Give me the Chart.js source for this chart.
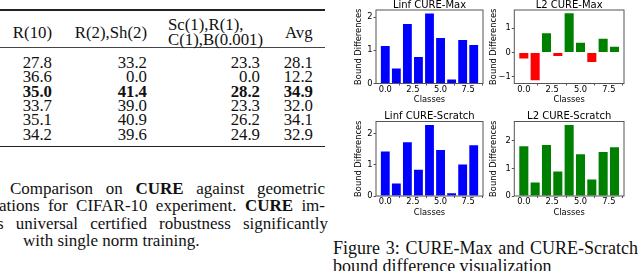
<!DOCTYPE html>
<html>
<head>
<meta charset="utf-8">
<script src="https://cdn.jsdelivr.net/npm/chart.js@4/dist/chart.umd.min.js"></script>
<style>
  html, body { margin:0; padding:0; background:#fff; }
  body { width:640px; height:271px; overflow:hidden; position:relative; }
  .t { position:absolute; font-family:"Liberation Serif","Times New Roman",serif; font-size:16.8px; line-height:16.5px; color:#111; white-space:nowrap; }
  .r { text-align:right; }
  .b { font-weight:bold; }
  .rule { position:absolute; left:0; width:325px; background:#222; }
  .cap { position:absolute; font-family:"Liberation Serif","Times New Roman",serif; font-size:17px; line-height:17.5px; color:#111; white-space:nowrap; }
  .just { text-align:justify; text-align-last:justify; white-space:normal; }
  canvas { position:absolute; }
</style>
</head>
<body>
<div class="rule" style="top:9.4px;height:1.3px"></div>
<div class="rule" style="top:47.2px;height:0.8px;background:#444"></div>
<div class="rule" style="top:146px;height:1.3px"></div>
<div id="table"></div>

<div class="cap just" style="left:10px;top:179.8px;width:315px">Comparison on <b>CURE</b> against geometric</div>
<div class="cap just" style="left:-1px;top:197.2px;width:326px">ations for CIFAR-10 experiment. <b>CURE</b> im-</div>
<div class="cap just" style="left:-3px;top:214.8px;width:331px">s universal certified robustness significantly</div>
<div class="cap" style="left:23px;top:232.2px">with single norm training.</div>

<div class="cap just" style="left:333px;top:239px;width:305px;font-size:18px;line-height:18px">Figure 3: CURE-Max and CURE-Scratch</div>
<div class="cap" style="left:333px;top:257px;font-size:18px;line-height:18px">bound difference visualization</div>

<canvas id="c1" width="160" height="107" style="left:330px;top:0px"></canvas>
<canvas id="c2" width="160" height="107" style="left:480px;top:0px"></canvas>
<canvas id="c3" width="160" height="109" style="left:330px;top:111px"></canvas>
<canvas id="c4" width="160" height="109" style="left:480px;top:111px"></canvas>

<script>
// ---- table data ----
const tableHeaders = ["R(10)", "R(2),Sh(2)", "Sc(1),R(1),", "C(1),B(0.001)", "Avg"];
const colR10 = ["27.8", "36.6", "35.0", "33.7", "35.1", "34.2"];
const colR2Sh2 = ["33.2", "0.0", "41.4", "39.0", "40.9", "39.6"];
const colScRCB = ["23.3", "0.0", "28.2", "23.3", "26.2", "24.9"];
const colAvg = ["28.1", "12.2", "34.9", "32.0", "34.1", "32.9"];
const boldRow = 2;

// ---- chart data ----
const classes = [0, 1, 2, 3, 4, 5, 6, 7, 8];
const linfMax = [1.13, 0.45, 1.79, 0.80, 2.11, 1.37, 0.12, 1.31, 1.16];
const l2Max = [-0.25, -1.15, 0.79, -0.15, 1.62, 0.40, -0.40, 0.57, 0.23];
const linfScratch = [1.43, 0.40, 1.73, 0.84, 2.28, 1.48, 0.09, 1.01, 1.63];
const l2Scratch = [1.80, 0.49, 1.85, 0.89, 2.57, 1.51, 0.60, 1.59, 1.77];
const xTickValues = [0, 2.5, 5, 7.5];
const yTicksPos = [0, 1, 2];
const yTicksSigned = [-1, 0, 1];
const chartTitles = ["Linf CURE-Max", "L2 CURE-Max", "Linf CURE-Scratch", "L2 CURE-Scratch"];

// ---- build table text ----
(function(){
  const tb = document.getElementById('table');
  function add(txt, style, cls){
    const d = document.createElement('div');
    d.className = 't ' + (cls||'');
    d.textContent = txt;
    d.setAttribute('style', style);
    tb.appendChild(d);
  }
  const H = 8.25;
  add(tableHeaders[0], `left:0;width:52px;top:${33.3-H}px`, 'r');
  add(tableHeaders[1], `left:0;width:147px;top:${33.3-H}px`, 'r');
  add(tableHeaders[2], `left:168px;top:${25-H}px`);
  add(tableHeaders[3], `left:168px;top:${40-H}px`);
  add(tableHeaders[4], `left:285px;top:${33.3-H}px`);
  const rowY = [63.3, 77.7, 92, 106.2, 120.6, 135];
  const cols = [[colR10, 52], [colR2Sh2, 147], [colScRCB, 260], [colAvg, 313]];
  rowY.forEach((y, i) => {
    cols.forEach(([arr, right]) => {
      add(arr[i], `left:0;width:${right}px;top:${y-H}px`, 'r' + (i === boldRow ? ' b' : ''));
    });
  });
})();

// ---- charts ----
const frame = {
  id: 'frame',
  afterDraw(c) {
    const a = c.chartArea, g = c.ctx;
    g.save();
    g.strokeStyle = '#555';
    g.lineWidth = 1;
    g.strokeRect(a.left, a.top, a.right - a.left, a.bottom - a.top);
    g.restore();
  }
};

const tickFont = { family: 'DejaVu Sans', size: 8.3, lineHeight: 1 };

function makeChart(id, vals, colors, title, yTicks, yW, yTitlePad, padR, xBoxH, titlePadTop) {
  const maxV = Math.max(...vals), minV = Math.min(...vals);
  let yMin, yMax;
  if (minV >= 0) { yMin = 0; yMax = maxV * 1.05; }
  else { const r = maxV - minV; yMin = minV - 0.05 * r; yMax = maxV + 0.05 * r; }
  new Chart(document.getElementById(id), {
    type: 'bar',
    data: {
      datasets: [{
        data: classes.map((c, i) => ({ x: c, y: vals[i] })),
        backgroundColor: colors,
        borderWidth: 0,
        barPercentage: 0.8,
        categoryPercentage: 1
      }]
    },
    options: {
      responsive: false,
      animation: false,
      layout: { padding: { left: 0, right: padR, top: 0, bottom: 0 } },
      plugins: {
        legend: { display: false },
        tooltip: { enabled: false },
        title: {
          display: true, text: title, color: '#000', fullSize: false,
          font: { family: 'DejaVu Sans', size: 10, lineHeight: 1, weight: 'normal' },
          padding: { top: titlePadTop, bottom: 0 }
        }
      },
      scales: {
        x: {
          type: 'linear', min: -0.84, max: 8.84, offset: false,
          afterBuildTicks: s => { s.ticks = xTickValues.map(v => ({ value: v })); },
          ticks: { callback: v => Number(v).toFixed(1), font: tickFont, color: '#000', padding: 0, maxRotation: 0, autoSkip: false },
          grid: { display: true, drawOnChartArea: false, drawTicks: true, tickLength: 2, color: '#555' },
          border: { display: false },
          title: { display: true, text: 'Classes', color: '#000', font: tickFont, padding: { top: 0, bottom: 3 } },
          afterFit: s => { s.height = xBoxH; }
        },
        y: {
          min: yMin, max: yMax,
          afterBuildTicks: s => { s.ticks = yTicks.map(v => ({ value: v })); },
          ticks: { callback: v => String(v).replace('-', '\u2212'), font: tickFont, color: '#000', padding: 1 },
          grid: { display: true, drawOnChartArea: false, drawTicks: true, tickLength: 2.5, color: '#555' },
          border: { display: false },
          title: { display: true, text: 'Bound Differences', color: '#000', font: tickFont, padding: { top: yTitlePad, bottom: 0 } },
          afterFit: s => { s.width = yW; }
        }
      }
    },
    plugins: [frame]
  });
}

const blue = classes.map(() => '#0000ff');
const green = classes.map(() => '#008000');
const signed = l2Max.map(v => v < 0 ? '#ff0000' : '#008000');

makeChart('c1', linfMax, blue, chartTitles[0], yTicksPos, 46, 25.15, 7, 23.5, 0);
makeChart('c2', l2Max, signed, chartTitles[1], yTicksSigned, 34.3, 9.85, 16, 23.5, 0);
makeChart('c3', linfScratch, blue, chartTitles[2], yTicksPos, 46, 25.15, 7, 24, 0.5);
makeChart('c4', l2Scratch, green, chartTitles[3], yTicksPos, 34.3, 9.85, 16, 24, 0.5);
</script>
</body>
</html>
